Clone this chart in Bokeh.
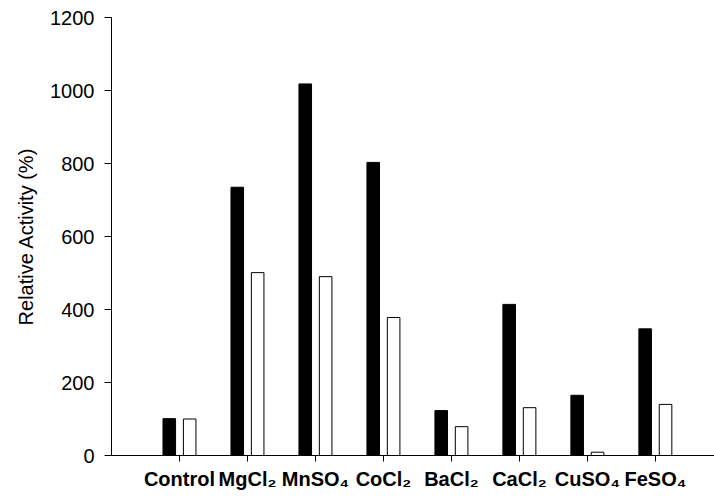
from bokeh.plotting import figure
from bokeh.models import Range1d, FixedTicker
from bokeh.embed import file_html
from bokeh.resources import INLINE

categories = ["Control", "MgCl\u2082", "MnSO\u2084", "CoCl\u2082", "BaCl\u2082", "CaCl\u2082", "CuSO\u2084", "FeSO\u2084"]
series_black = [101, 735, 1018, 803, 123, 414, 165, 347]
series_white = [100, 501, 490, 378, 79, 131, 9, 140]
y_ticks = [0, 200, 400, 600, 800, 1000, 1200]

idx = list(range(len(categories)))
bar_w = 0.185
off_b = -0.15
off_w = 0.15

p = figure(width=714, height=497, output_backend="svg", toolbar_location=None,
           x_range=Range1d(-1.0, 7.87), y_range=Range1d(0, 1200),
           min_border_left=111, min_border_right=0, min_border_top=17, min_border_bottom=42)
p.outline_line_color = None
p.xgrid.visible = False
p.ygrid.visible = False
p.background_fill_color = "white"
p.border_fill_color = "white"

p.vbar(x=[i + off_b for i in idx], top=series_black, bottom=0, width=bar_w,
       fill_color="black", line_color="black", line_width=1)
p.vbar(x=[i + off_w for i in idx], top=series_white, bottom=0, width=bar_w,
       fill_color="white", line_color="black", line_width=1)

xa = p.xaxis[0]
xa.ticker = FixedTicker(ticks=idx)
xa.major_label_overrides = {i: c for i, c in zip(idx, categories)}
xa.minor_tick_line_color = None
xa.major_tick_in = 0
xa.major_tick_out = 6
xa.axis_line_color = "black"
xa.major_tick_line_color = "black"
xa.major_label_text_font = "Liberation Sans"
xa.major_label_text_font_style = "bold"
xa.major_label_text_font_size = "20px"
xa.major_label_text_color = "black"
xa.major_label_standoff = 6

ya = p.yaxis[0]
ya.ticker = FixedTicker(ticks=y_ticks)
ya.minor_tick_line_color = None
ya.major_tick_in = 0
ya.major_tick_out = 7
ya.axis_line_color = "black"
ya.major_tick_line_color = "black"
ya.major_label_text_font = "Liberation Sans"
ya.major_label_text_font_size = "20px"
ya.major_label_text_color = "black"
ya.major_label_standoff = 10
ya.axis_label = "Relative Activity (%)"
ya.axis_label_text_font = "Liberation Sans"
ya.axis_label_text_font_style = "normal"
ya.axis_label_text_font_size = "20px"
ya.axis_label_text_color = "black"
ya.axis_label_standoff = 10

open("out.html", "w").write(file_html(p, INLINE))
